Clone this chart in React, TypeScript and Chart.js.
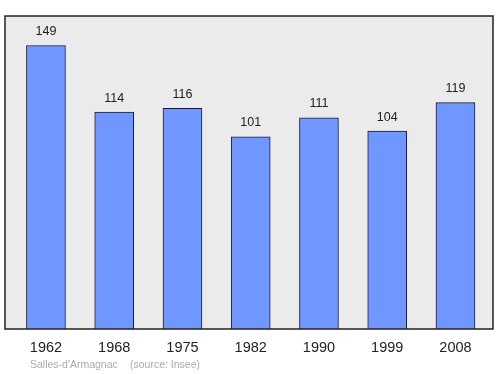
import React, { useEffect, useRef } from "react";
import { Chart, registerables } from "chart.js";

Chart.register(...registerables);

const years = ["1962", "1968", "1975", "1982", "1990", "1999", "2008"];
const population = [149, 114, 116, 101, 111, 104, 119];
const footerPlace = "Salles-d'Armagnac";
const footerSource = "(source: Insee)";

export default function App() {
  const ref = useRef<HTMLCanvasElement | null>(null);

  useEffect(() => {
    if (!ref.current) return;
    const frame = {
      id: "frame",
      beforeDatasetsDraw(chart: any) {
        const { ctx, chartArea: a } = chart;
        ctx.save();
        ctx.fillStyle = "#ebebeb";
        ctx.fillRect(a.left, a.top, a.right - a.left, a.bottom - a.top);
        ctx.restore();
      },
      afterDatasetsDraw(chart: any) {
        const { ctx, chartArea: a } = chart;
        const xs = chart.scales.x;
        const ys = chart.scales.y;
        ctx.save();
        ctx.strokeStyle = "#222";
        ctx.lineWidth = 1.5;
        ctx.strokeRect(a.left, a.top, a.right - a.left, a.bottom - a.top);
        ctx.fillStyle = "#222";
        ctx.textAlign = "center";
        ctx.textBaseline = "middle";
        ctx.font = "12.5px 'Liberation Sans', Arial, sans-serif";
        population.forEach((v, i) => {
          ctx.fillText(String(v), xs.getPixelForValue(i), ys.getPixelForValue(v) - 14);
        });
        ctx.font = "14.5px 'Liberation Sans', Arial, sans-serif";
        years.forEach((y, i) => {
          ctx.fillText(y, xs.getPixelForValue(i), a.bottom + 18.5);
        });
        ctx.fillStyle = "#aaa";
        ctx.textAlign = "left";
        ctx.font = "10.5px 'Liberation Sans', Arial, sans-serif";
        ctx.fillText(footerPlace, 30, 365);
        ctx.fillText(footerSource, 130, 365);
        ctx.restore();
      },
    };
    const chart = new Chart(ref.current, {
      type: "bar",
      data: {
        datasets: [
          {
            data: population.map((v, i) => ({ x: i, y: v })),
            backgroundColor: "#7096ff",
            borderColor: "#1a1a40",
            borderWidth: 1,
            barThickness: 39,
          },
        ],
      },
      options: {
        animation: false,
        responsive: false,
        maintainAspectRatio: false,
        layout: { padding: { left: 5, top: 16, right: 7, bottom: 45 } },
        plugins: { legend: { display: false }, tooltip: { enabled: false } },
        scales: {
          x: { type: "linear", min: -0.6, max: 6.55, offset: false, display: false },
          y: { min: 0, max: 164.5, display: false },
        },
      },
      plugins: [frame],
    });
    return () => chart.destroy();
  }, []);

  return (
    <div style={{ position: "fixed", left: 0, top: 0, width: 500, height: 374, background: "#fff" }}>
      <canvas ref={ref} width={500} height={374} />
    </div>
  );
}
